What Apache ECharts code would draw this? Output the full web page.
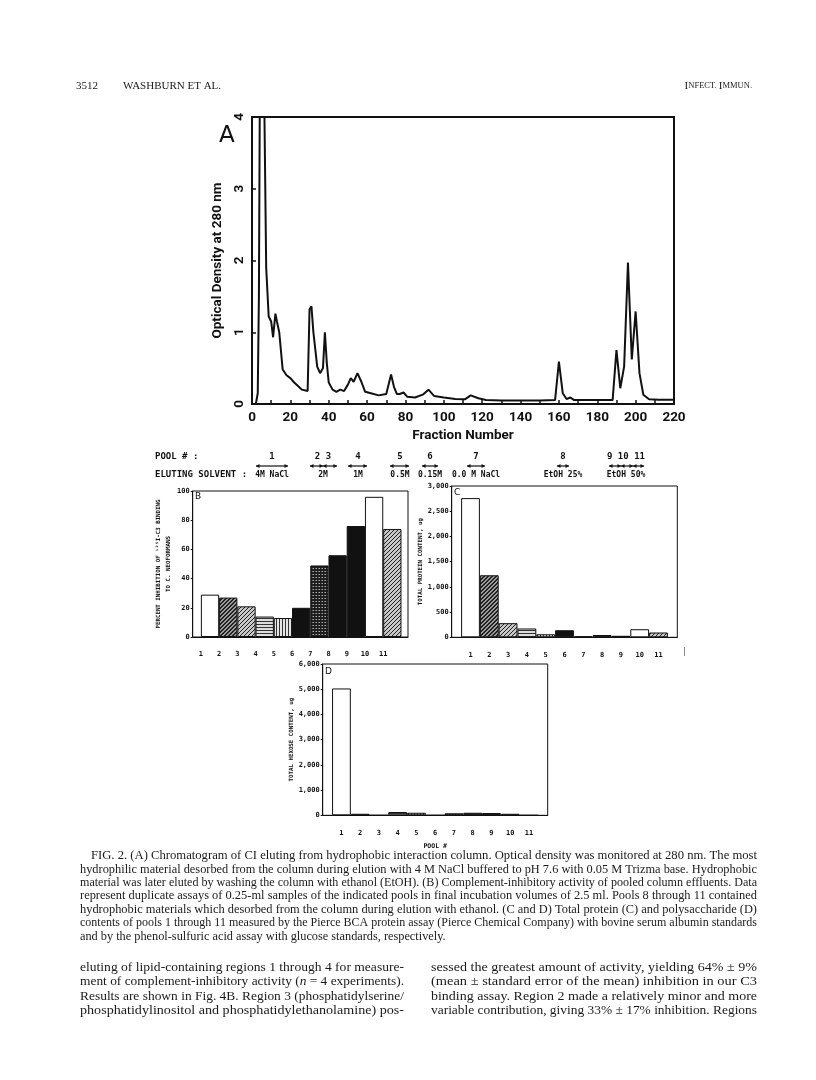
<!DOCTYPE html>
<html>
  <head>
    <meta charset="UTF-8" />
    <title>Washburn et al. - Fig. 2</title>
    <script src="https://cdn.jsdelivr.net/npm/echarts@6.0.0/dist/echarts.min.js"></script>
    <style>
      body { margin: 0; background: #fff; }
      #main { width: 816px; height: 1080px; }
    </style>
  </head>
  <body>
    <div id="main"></div>
    <script>
      // (A) chromatogram (OD 280 vs fraction number)
      var fraction = [0, 2, 3, 3.6, 4.2, 6, 6.5, 7.4, 8.7, 10, 11, 12.2, 13, 14.2, 16, 18, 20, 22, 24, 26,
        29, 30, 31, 32, 34, 35.5, 37, 38, 39, 40, 42, 44, 46, 48, 50, 51.5, 53, 55, 57, 59,
        62, 66, 70, 72.5, 74, 75.5, 77, 79, 81, 85, 89, 92, 95, 100, 106, 111, 114, 118, 122, 130,
        140, 150, 158, 160, 162, 164, 166, 168, 180, 188, 190, 192, 194, 196, 198, 200, 202, 204, 207, 212, 220];
      var density = [0, 0, 0.15, 1.5, 5, 5, 4, 1.9, 1.22, 1.15, 0.93, 1.26, 1.15, 1.0, 0.48, 0.4, 0.36, 0.3, 0.25, 0.2,
        0.18, 1.32, 1.36, 1.0, 0.52, 0.43, 0.5, 1.0, 0.57, 0.3, 0.2, 0.17, 0.2, 0.18, 0.27, 0.36, 0.31, 0.43, 0.31, 0.17,
        0.15, 0.12, 0.14, 0.41, 0.24, 0.14, 0.14, 0.16, 0.1, 0.09, 0.13, 0.2, 0.11, 0.09, 0.07, 0.065, 0.12, 0.08, 0.055, 0.05,
        0.05, 0.05, 0.055, 0.59, 0.15, 0.07, 0.09, 0.055, 0.055, 0.055, 0.75, 0.22, 0.52, 1.97, 0.62, 1.29, 0.43, 0.13, 0.065, 0.06, 0.06];

      // (B), (C), (D) pooled column effluents
      var pools = [1, 2, 3, 4, 5, 6, 7, 8, 9, 10, 11];
      var inhibition = [29, 27, 21, 14, 13, 20, 49, 56, 76, 96, 74];
      var protein = [2760, 1230, 280, 175, 60, 140, 20, 45, 30, 160, 95];
      var hexose = [5030, 60, 0, 130, 100, 0, 80, 100, 90, 60, 0];
      var poolFill = ['open', 'hatchDark', 'hatch', 'horiz', 'vert', 'solid', 'check', 'solid', 'solid', 'open', 'hatch'];

      // pool / eluting solvent strip between (A) and (B)
      var poolNames = ['1', '2 3', '4', '5', '6', '7', '8', '9 10 11'];
      var solvents = ['4M NaCl', '2M', '1M', '0.5M', '0.15M', '0.0 M NaCl', 'EtOH 25%', 'EtOH 50%'];
      var stripX = [272, 323, 358, 400, 430, 476, 563, 626];
      var arrowSpans = [[256, 288], [310, 323], [323, 337], [348, 367], [390, 409], [422, 438], [467, 485],
        [557, 569], [609, 621], [621, 633], [633, 644]];

      var caption = [
        'FIG. 2. (A) Chromatogram of CI eluting from hydrophobic interaction column. Optical density was monitored at 280 nm. The most',
        'hydrophilic material desorbed from the column during elution with 4 M NaCl buffered to pH 7.6 with 0.05 M Trizma base. Hydrophobic',
        'material was later eluted by washing the column with ethanol (EtOH). (B) Complement-inhibitory activity of pooled column effluents. Data',
        'represent duplicate assays of 0.25-ml samples of the indicated pools in final incubation volumes of 2.5 ml. Pools 8 through 11 contained',
        'hydrophobic materials which desorbed from the column during elution with ethanol. (C and D) Total protein (C) and polysaccharide (D)',
        'contents of pools 1 through 11 measured by the Pierce BCA protein assay (Pierce Chemical Company) with bovine serum albumin standards',
        'and by the phenol-sulfuric acid assay with glucose standards, respectively.'
      ];
      var bodyLeft = [
        'eluting of lipid-containing regions 1 through 4 for measure-',
        'ment of complement-inhibitory activity ({i|n} = 4 experiments).',
        'Results are shown in Fig. 4B. Region 3 (phosphatidylserine/',
        'phosphatidylinositol and phosphatidylethanolamine) pos-'
      ];
      var bodyRight = [
        'sessed the greatest amount of activity, yielding 64% ± 9%',
        '(mean ± standard error of the mean) inhibition in our C3',
        'binding assay. Region 2 made a relatively minor and more',
        'variable contribution, giving 33% ± 17% inhibition. Regions'
      ];

      var plotFont = 'Roboto, "DejaVu Sans", sans-serif';
      var dotFont = '"DejaVu Sans Mono", monospace';
      var serif = '"Liberation Serif", "DejaVu Serif", serif';

      // small canvas textures for the shaded bars
      function fillFor(kind) {
        if (kind === 'open') return '#fff';
        if (kind === 'solid') return '#111';
        var c = document.createElement('canvas');
        var g, i;
        if (kind === 'hatchDark' || kind === 'hatch') {
          c.width = 4; c.height = 4;
          g = c.getContext('2d');
          g.fillStyle = kind === 'hatchDark' ? '#9a9a9a' : '#c8c8c8';
          g.fillRect(0, 0, 4, 4);
          g.fillStyle = '#222';
          for (i = 0; i < 4; i++) {
            g.fillRect(i, 3 - i, 1, 1);
            if (kind === 'hatchDark') g.fillRect((i + 1) % 4, 3 - i, 1, 1);
          }
        } else if (kind === 'horiz') {
          c.width = 1; c.height = 3;
          g = c.getContext('2d');
          g.fillStyle = '#ddd'; g.fillRect(0, 0, 1, 3);
          g.fillStyle = '#333'; g.fillRect(0, 0, 1, 1);
        } else if (kind === 'vert') {
          c.width = 3; c.height = 1;
          g = c.getContext('2d');
          g.fillStyle = '#e4e4e4'; g.fillRect(0, 0, 3, 1);
          g.fillStyle = '#333'; g.fillRect(0, 0, 1, 1);
        } else {
          c.width = 3; c.height = 3;
          g = c.getContext('2d');
          g.fillStyle = '#1e1e1e'; g.fillRect(0, 0, 3, 3);
          g.fillStyle = '#aaa'; g.fillRect(1, 1, 1, 1);
          g.fillStyle = '#666'; g.fillRect(0, 1, 1, 1);
        }
        return { image: c, repeat: 'repeat' };
      }

      function barData(values) {
        return pools.map(function (p, i) {
          return { value: [p, values[i]], itemStyle: { color: fillFor(poolFill[i]) } };
        });
      }

      // justified prose: stretch each line to its column width
      var measure = document.createElement('canvas').getContext('2d');
      function proseLine(str, x, y, width, size, justify) {
        var font = size + 'px ' + serif;
        measure.font = font;
        var plain = str.replace(/\{i\|([^}]*)\}/g, '$1');
        var s = justify ? width / measure.measureText(plain).width : 1;
        return {
          type: 'text', x: x, y: y, scaleX: s,
          style: {
            text: str, font: font, fill: '#1a1a1a', verticalAlign: 'middle',
            rich: { i: { fontStyle: 'italic', fontSize: size, fontFamily: serif, fill: '#1a1a1a' } }
          }
        };
      }

      var small = { fontFamily: dotFont, fontWeight: 'bold', fontSize: 7, color: '#111' };
      var axisBlack = { show: true, lineStyle: { color: '#111', width: 1 } };

      var graphic = [];
      // page header
      graphic.push({ type: 'text', x: 76, y: 86, style: { text: '3512', font: '11px ' + serif, fill: '#1a1a1a', verticalAlign: 'middle' } });
      graphic.push({ type: 'text', x: 123, y: 86, style: { text: 'WASHBURN ET AL.', font: '11px ' + serif, fill: '#1a1a1a', verticalAlign: 'middle' } });
      graphic.push({ type: 'text', x: 752, y: 86, style: {
        text: '{b|I}{s|NFECT. }{b|I}{s|MMUN.}', align: 'right', verticalAlign: 'middle', fill: '#1a1a1a',
        rich: { b: { fontSize: 11, fontFamily: serif, fill: '#1a1a1a' }, s: { fontSize: 8.5, fontFamily: serif, fill: '#1a1a1a' } }
      } });

      // panel letters
      graphic.push({ type: 'text', x: 219, y: 136, style: { text: 'A', font: '23px "DejaVu Sans", sans-serif', fill: '#111', verticalAlign: 'middle' } });
      graphic.push({ type: 'text', x: 195, y: 497, style: { text: 'B', font: '9px "DejaVu Sans", sans-serif', fill: '#111', verticalAlign: 'middle' } });
      graphic.push({ type: 'text', x: 454, y: 493, style: { text: 'C', font: '9px "DejaVu Sans", sans-serif', fill: '#111', verticalAlign: 'middle' } });
      graphic.push({ type: 'text', x: 325, y: 672, style: { text: 'D', font: '9px "DejaVu Sans", sans-serif', fill: '#111', verticalAlign: 'middle' } });
      graphic.push({ type: 'text', x: 682, y: 652, style: { text: '|', font: '8px ' + dotFont, fill: '#555', verticalAlign: 'middle' } });

      // pool / solvent strip
      var stripFont = 'bold 9px ' + dotFont;
      graphic.push({ type: 'text', x: 155, y: 457, style: { text: 'POOL # :', font: stripFont, fill: '#111', verticalAlign: 'middle' } });
      graphic.push({ type: 'text', x: 155, y: 475, style: { text: 'ELUTING SOLVENT :', font: stripFont, fill: '#111', verticalAlign: 'middle' } });
      poolNames.forEach(function (t, i) {
        graphic.push({ type: 'text', x: stripX[i], y: 457, style: { text: t, font: stripFont, fill: '#111', align: 'center', verticalAlign: 'middle' } });
        graphic.push({ type: 'text', x: stripX[i], y: 475, style: { text: solvents[i], font: 'bold 8px ' + dotFont, fill: '#111', align: 'center', verticalAlign: 'middle' } });
      });
      arrowSpans.forEach(function (sp) {
        var y = 466;
        graphic.push({ type: 'line', shape: { x1: sp[0], y1: y, x2: sp[1], y2: y }, style: { stroke: '#111', lineWidth: 1.2 } });
        graphic.push({ type: 'polygon', shape: { points: [[sp[0], y], [sp[0] + 3.5, y - 2], [sp[0] + 3.5, y + 2]] }, style: { fill: '#111' } });
        graphic.push({ type: 'polygon', shape: { points: [[sp[1], y], [sp[1] - 3.5, y - 2], [sp[1] - 3.5, y + 2]] }, style: { fill: '#111' } });
      });

      // caption and body text
      caption.forEach(function (t, i) {
        var x = i === 0 ? 91 : 80;
        graphic.push(proseLine(t, x, 856 + i * 13.4, 757 - x, 12.3, i < caption.length - 1));
      });
      bodyLeft.forEach(function (t, i) {
        graphic.push(proseLine(t, 80, 967 + i * 14.6, 324, 13.5, true));
      });
      bodyRight.forEach(function (t, i) {
        graphic.push(proseLine(t, 431, 967 + i * 14.6, 326, 13.5, true));
      });

      var chart = echarts.init(document.getElementById('main'));
      chart.setOption({
        animation: false,
        backgroundColor: '#fff',
        grid: [
          { left: 252, top: 117, width: 422, height: 287, show: true, borderColor: '#111', borderWidth: 2 },
          { left: 192.7, top: 491, width: 215.3, height: 146, show: true, borderColor: '#111', borderWidth: 1 },
          { left: 451.7, top: 486, width: 225.6, height: 151.3, show: true, borderColor: '#111', borderWidth: 1 },
          { left: 322.7, top: 664, width: 225, height: 151.3, show: true, borderColor: '#111', borderWidth: 1 }
        ],
        xAxis: [
          {
            gridIndex: 0, type: 'value', min: 0, max: 220, interval: 20,
            axisLine: { lineStyle: { color: '#111', width: 2 } },
            axisTick: { inside: true, length: 4, lineStyle: { color: '#111', width: 1.5 } },
            minorTick: { show: true, splitNumber: 2, length: 4, lineStyle: { color: '#111', width: 1.5 } },
            splitLine: { show: false },
            axisLabel: { fontFamily: plotFont, fontWeight: 'bold', fontSize: 13.5, color: '#111', margin: 7 },
            name: 'Fraction Number', nameLocation: 'middle', nameGap: 25,
            nameTextStyle: { fontFamily: plotFont, fontWeight: 'bold', fontSize: 13.5, color: '#111' }
          },
          {
            gridIndex: 1, type: 'value', min: 0.05, max: 11.86,
            axisLine: axisBlack, axisTick: { show: false }, splitLine: { show: false },
            axisLabel: Object.assign({ margin: 14, customValues: pools.map(function (p) { return p - 0.5; }),
              formatter: function (v) { return Math.round(v + 0.5); } }, small)
          },
          {
            gridIndex: 2, type: 'value', min: 0, max: 12,
            axisLine: axisBlack, axisTick: { show: false }, splitLine: { show: false },
            axisLabel: Object.assign({ margin: 14, customValues: pools }, small)
          },
          {
            gridIndex: 3, type: 'value', min: 0, max: 12,
            axisLine: axisBlack, axisTick: { show: false }, splitLine: { show: false },
            axisLabel: Object.assign({ margin: 14, customValues: pools }, small),
            name: 'POOL #', nameLocation: 'middle', nameGap: 28,
            nameTextStyle: { fontFamily: dotFont, fontWeight: 'bold', fontSize: 6.5, color: '#111' }
          }
        ],
        yAxis: [
          {
            gridIndex: 0, type: 'value', min: 0, max: 4, interval: 1,
            axisLine: { lineStyle: { color: '#111', width: 2 } },
            axisTick: { inside: true, length: 4, lineStyle: { color: '#111', width: 1.5 } },
            splitLine: { show: false },
            axisLabel: { rotate: 90, fontFamily: plotFont, fontWeight: 'bold', fontSize: 13.5, color: '#111', margin: 5 },
            name: 'Optical Density at 280 nm', nameLocation: 'middle', nameGap: 27,
            nameTextStyle: { fontFamily: plotFont, fontWeight: 'bold', fontSize: 13.5, color: '#111' }
          },
          {
            gridIndex: 1, type: 'value', min: 0, max: 100, interval: 20,
            axisLine: axisBlack, axisTick: { length: 2, lineStyle: { color: '#111' } }, splitLine: { show: false },
            axisLabel: Object.assign({ margin: 3 }, small),
            name: 'PERCENT INHIBITION OF ¹²⁵I-C3 BINDING\nTO C. NEOFORMANS', nameLocation: 'middle', nameGap: 16,
            nameTextStyle: { fontFamily: dotFont, fontWeight: 'bold', fontSize: 5.8, color: '#111', lineHeight: 10 }
          },
          {
            gridIndex: 2, type: 'value', min: 0, max: 3000, interval: 500,
            axisLine: axisBlack, axisTick: { length: 2, lineStyle: { color: '#111' } }, splitLine: { show: false },
            axisLabel: Object.assign({ margin: 3, formatter: function (v) { return v.toLocaleString('en-US'); } }, small),
            name: 'TOTAL PROTEIN CONTENT, ug', nameLocation: 'middle', nameGap: 24,
            nameTextStyle: { fontFamily: dotFont, fontWeight: 'bold', fontSize: 5.8, color: '#111' }
          },
          {
            gridIndex: 3, type: 'value', min: 0, max: 6000, interval: 1000,
            axisLine: axisBlack, axisTick: { length: 2, lineStyle: { color: '#111' } }, splitLine: { show: false },
            axisLabel: Object.assign({ margin: 3, formatter: function (v) { return v.toLocaleString('en-US'); } }, small),
            name: 'TOTAL HEXOSE CONTENT, ug', nameLocation: 'middle', nameGap: 24,
            nameTextStyle: { fontFamily: dotFont, fontWeight: 'bold', fontSize: 5.8, color: '#111' }
          }
        ],
        series: [
          {
            type: 'line', xAxisIndex: 0, yAxisIndex: 0, clip: true, showSymbol: false,
            lineStyle: { color: '#111', width: 2 },
            data: fraction.map(function (f, i) { return [f, density[i]]; })
          },
          {
            type: 'bar', xAxisIndex: 1, yAxisIndex: 1, barWidth: 18.3,
            itemStyle: { borderColor: '#111', borderWidth: 1 }, data: barData(inhibition)
          },
          {
            type: 'bar', xAxisIndex: 2, yAxisIndex: 2, barWidth: 18.8,
            itemStyle: { borderColor: '#111', borderWidth: 1 }, data: barData(protein)
          },
          {
            type: 'bar', xAxisIndex: 3, yAxisIndex: 3, barWidth: 18.75,
            itemStyle: { borderColor: '#111', borderWidth: 1 }, data: barData(hexose)
          }
        ],
        graphic: graphic
      });
    </script>
  </body>
</html>
